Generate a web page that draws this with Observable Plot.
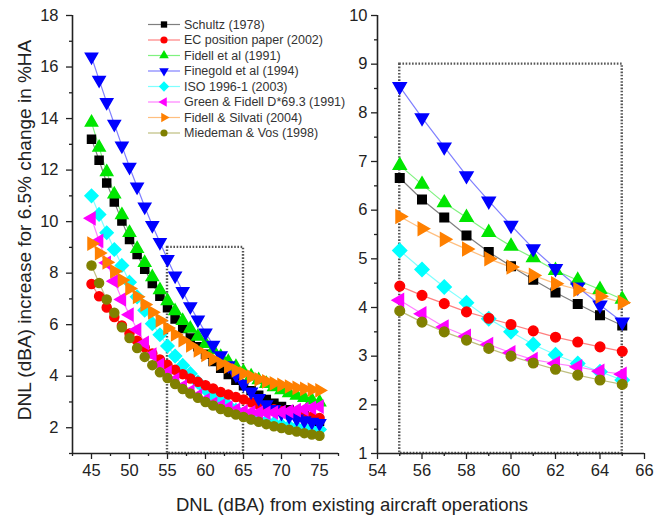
<!DOCTYPE html>
<html><head><meta charset="utf-8">
<script src="https://cdn.jsdelivr.net/npm/d3@7"></script>
<script src="https://cdn.jsdelivr.net/npm/@observablehq/plot@0.6"></script>
<style>
body{margin:0;background:#fff;font-family:Arial,"Liberation Sans",sans-serif;}
#wrap{position:relative;width:654px;height:520px;overflow:hidden;}
#left,#right,#overlay{position:absolute;top:0;}
#left{left:0}
#right{left:340px}
#overlay{left:0;pointer-events:none}
</style></head><body>
<div id="wrap"><div id="left"></div><div id="right"></div><svg id="overlay" width="654" height="520"></svg></div>
<script>
// DNL levels (dBA) from existing aircraft operations
const dnl = [45,46,47,48,49,50,51,52,53,54,55,56,57,58,59,60,61,62,63,64,65,66,67,68,69,70,71,72,73,74,75];

const seriesNames = ["Schultz (1978)","EC position paper (2002)","Fidell et al (1991)","Finegold et al (1994)","ISO 1996-1 (2003)","Green & Fidell D*69.3 (1991)","Fidell & Silvati (2004)","Miedeman & Vos (1998)"];
const seriesColors = ["#000000","#ff0000","#00e600","#0000ff","#00ffff","#ff00ff","#ff8000","#808000"];
const seriesSymbols = ["square","circle","triangle","triangle","diamond2","triangle","triangle","circle"];
const seriesRotate = [0,0,0,180,0,-90,90,0];
const seriesScale = [1,1,1,1,1.3,1,1,1];

const schultz   = [13.2,12.38,11.5,10.76,10.02,9.31,8.72,8.15,7.6,7.1,6.66,6.22,5.85,5.48,5.14,4.85,4.57,4.31,4.07,3.84,3.63,3.44,3.26,3.10,2.95,2.82,2.70,2.58,2.47,2.36,2.25];
const ecPaper   = [7.58,7.1,6.67,6.3,5.97,5.66,5.38,5.12,4.88,4.65,4.44,4.25,4.08,3.91,3.78,3.65,3.52,3.39,3.29,3.19,3.10,2.99,2.89,2.80,2.72,2.65,2.59,2.53,2.48,2.43,2.38];
const fidell91  = [13.85,12.88,11.93,11.06,10.26,9.57,8.95,8.4,7.85,7.35,6.92,6.53,6.15,5.85,5.54,5.26,5.02,4.76,4.56,4.37,4.17,4.0,3.85,3.71,3.58,3.46,3.35,3.25,3.16,3.07,2.99];
const finegold  = [16.4,15.5,14.63,13.79,12.94,12.12,11.35,10.58,9.86,9.2,8.54,7.9,7.3,6.71,6.19,5.69,5.21,4.8,4.42,4.05,3.70,3.40,3.14,2.90,2.72,2.57,2.45,2.35,2.28,2.22,2.17];
const iso1996   = [11.0,10.28,9.57,8.92,8.30,7.65,7.08,6.56,6.04,5.61,5.17,4.78,4.42,4.10,3.77,3.50,3.24,3.03,2.85,2.68,2.51,2.40,2.31,2.23,2.16,2.10,2.05,2.01,1.98,1.95,1.93];
const greenFid  = [10.13,9.25,8.4,7.69,6.98,6.39,5.81,5.29,4.84,4.44,4.15,3.87,3.60,3.41,3.24,3.07,2.93,2.85,2.78,2.69,2.63,2.60,2.58,2.58,2.59,2.61,2.64,2.68,2.72,2.77,2.82];
const fidSilv   = [9.15,8.78,8.42,8.07,7.73,7.40,7.08,6.78,6.48,6.17,5.87,5.62,5.40,5.20,5.00,4.83,4.66,4.49,4.37,4.23,4.10,3.98,3.88,3.80,3.72,3.66,3.60,3.55,3.51,3.48,3.45];
const miedeman  = [8.3,7.62,6.98,6.46,5.9,5.48,5.09,4.75,4.43,4.15,3.93,3.70,3.50,3.33,3.16,3.0,2.86,2.73,2.61,2.51,2.42,2.32,2.23,2.14,2.06,1.99,1.92,1.85,1.79,1.74,1.69];
const seriesValues = [schultz,ecPaper,fidell91,finegold,iso1996,greenFid,fidSilv,miedeman];

// zoomed range shown in right panel
const zoomX = [55,65];
const zoomY = [1,9];

// tick labels
const leftXTicks = [45,50,55,60,65,70,75];
const leftXMinor = [42.5,47.5,52.5,57.5,62.5,67.5,72.5,77.5];
const leftYTicks = [2,4,6,8,10,12,14,16,18];
const leftYMinor = [1,3,5,7,9,11,13,15,17];
const rightXTicks = [54,56,58,60,62,64,66];
const rightXMinor = [55,57,59,61,63,65];
const rightYTicks = [1,2,3,4,5,6,7,8,9,10];
const rightYMinor = [1.5,2.5,3.5,4.5,5.5,6.5,7.5,8.5,9.5];

const rows = seriesNames.flatMap((name,i)=>dnl.map((x,j)=>({series:name,x,y:seriesValues[i][j],rot:seriesRotate[i],k:seriesScale[i]})));
const box = [{x1:zoomX[0],x2:zoomX[1],y1:zoomY[0],y2:zoomY[1]}];

const ink = "#222";
function panel(opts){
  const data = opts.filter ? rows.filter(opts.filter) : rows;
  return Plot.plot({
    width:opts.width, height:490,
    marginLeft:opts.ml, marginRight:opts.mr, marginTop:15, marginBottom:37,
    x:{domain:opts.xd}, y:{domain:opts.yd},
    r:{type:"identity"},
    color:{domain:seriesNames, range:seriesColors},
    symbol:{domain:seriesNames, range:seriesSymbols},
    style:{fontFamily:"Arial, 'Liberation Sans', sans-serif", fontSize:"16.5px", color:ink, background:"transparent", overflow:"visible"},
    marks:[
      Plot.rect(box,{x1:"x1",x2:"x2",y1:"y1",y2:"y2",fill:"none",stroke:"#555",strokeWidth:2.4,strokeDasharray:"1.6,1.6"}),
      Plot.line(data,{x:"x",y:"y",z:"series",stroke:"series",strokeOpacity:0.5,strokeWidth:1.2}),
      Plot.dot(data,{x:"x",y:"y",fill:"series",stroke:"series",symbol:"series",rotate:"rot",r:d=>d.k*opts.r}),
      Plot.axisX({ticks:opts.xt, tickSize:6, tickPadding:5, label:null, stroke:ink, strokeWidth:1.3}),
      Plot.axisX({ticks:opts.xm, tickSize:3, tickFormat:()=>"", label:null, stroke:ink, strokeWidth:1.3}),
      Plot.axisY({ticks:opts.yt, tickSize:6, tickPadding:opts.yp, label:null, stroke:ink, strokeWidth:1.3}),
      Plot.axisY({ticks:opts.ym, tickSize:3, tickFormat:()=>"", label:null, stroke:ink, strokeWidth:1.3}),
      Plot.ruleX([opts.xd[0]],{stroke:ink,strokeWidth:1.6}),
      Plot.ruleY([opts.yd[0]],{stroke:ink,strokeWidth:1.6})
    ]
  });
}

document.getElementById("left").append(panel({width:350, ml:72, mr:12, xd:[42.5,77.5], yd:[1,18], xt:leftXTicks, xm:leftXMinor, yt:leftYTicks, ym:leftYMinor, yp:8, r:4.5}));
document.getElementById("right").append(panel({width:314, ml:37, mr:10, xd:[54,66], yd:[1,10], xt:rightXTicks, xm:rightXMinor, yt:rightYTicks, ym:rightYMinor, yp:4, r:4.8,
  filter:d=>d.x>=zoomX[0]&&d.x<=zoomX[1]}));

// overlay: legend and axis titles
const svg = d3.select("#overlay");
const symMap = {square:d3.symbolSquare, circle:d3.symbolCircle, triangle:d3.symbolTriangle, diamond2:d3.symbolDiamond2};
const lg = svg.append("g").attr("font-family","Arial, 'Liberation Sans', sans-serif").attr("font-size","12.5px");
seriesNames.forEach((name,i)=>{
  const y = 24.5 + i*15.5;
  lg.append("line").attr("x1",148).attr("x2",180).attr("y1",y).attr("y2",y).attr("stroke",seriesColors[i]).attr("stroke-opacity",0.5).attr("stroke-width",1.2);
  lg.append("path").attr("d",d3.symbol(symMap[seriesSymbols[i]],40*seriesScale[i]*seriesScale[i])()).attr("transform",`translate(164,${y}) rotate(${seriesRotate[i]})`).attr("fill",seriesColors[i]);
  lg.append("text").attr("x",184).attr("y",y).attr("dy","0.35em").attr("fill","#333").text(name);
});
svg.append("text").attr("transform","translate(24,230) rotate(-90)").attr("text-anchor","middle").attr("dy","0.35em")
  .attr("font-family","Arial, 'Liberation Sans', sans-serif").attr("font-size","19px").attr("fill",ink)
  .text("DNL (dBA) increase for 6.5% change in %HA");
svg.append("text").attr("x",352).attr("y",505).attr("text-anchor","middle").attr("dy","0.35em")
  .attr("font-family","Arial, 'Liberation Sans', sans-serif").attr("font-size","18.5px").attr("fill",ink)
  .text("DNL (dBA) from existing aircraft operations");
</script>
</body></html>
